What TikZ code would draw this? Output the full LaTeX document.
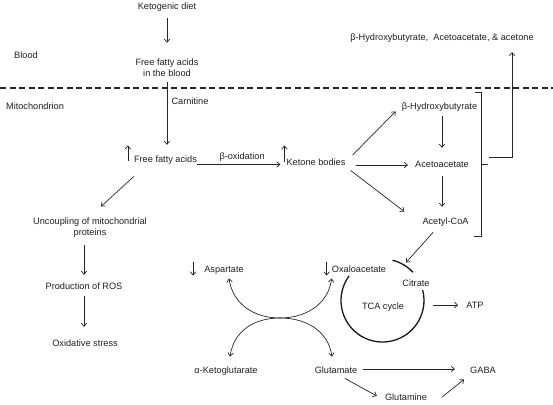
\documentclass[tikz,border=0pt]{standalone}
\usepackage{fontspec}
\setmainfont{Liberation Sans}
\usetikzlibrary{arrows.meta,calc}
\begin{document}
\begin{tikzpicture}[x=1pt,y=1pt,
  lbl/.style={inner sep=0pt, text=black!88, font=\fontsize{9.2}{11}\selectfont, text height=6.6pt, text depth=1.9pt},
  lbl2/.style={inner sep=0pt, text=black!88, font=\fontsize{9.2}{11}\selectfont, align=center},
  arr/.style={draw=black!85, line width=0.7pt, -{Straight Barb[length=3.2pt,width=5.5pt]}},
  darr/.style={draw=black!85, line width=0.7pt, {Straight Barb[length=3.2pt,width=5.5pt]}-{Straight Barb[length=3.2pt,width=5.5pt]}},
  ln/.style={draw=black!85, line width=0.7pt}]
\useasboundingbox (0,0) rectangle (553,-404);
% nodes
\node[lbl] (kd) at (167,-7) {Ketogenic diet};
\node[lbl2] (ffab) at (167,-67.5) {Free fatty acids\\in the blood};
\node[lbl] (blood) at (26,-56) {Blood};
\node[lbl] (mito) at (35,-107) {Mitochondrion};
\node[lbl] (carn) at (190,-102) {Carnitine};
\node[lbl] (ffa) at (165.5,-160) {Free fatty acids};
\node[lbl] (kb) at (316,-163) {Ketone bodies};
\node[lbl] (bh) at (439.5,-107) {β-Hydroxybutyrate};
\node[lbl] (aa) at (442,-165) {Acetoacetate};
\node[lbl] (acoa) at (445.5,-222) {Acetyl-CoA};
\node[lbl] (top) at (442,-38) {β-Hydroxybutyrate,\ \ Acetoacetate, \& acetone};
\node[lbl2] (unc) at (90,-227.5) {Uncoupling of mitochondrial\\proteins};
\node[lbl] (ros) at (84,-287) {Production of ROS};
\node[lbl] (ox) at (85,-344) {Oxidative stress};
\node[lbl] (asp) at (224,-270) {Aspartate};
\node[lbl] (oxa) at (359,-270) {Oxaloacetate};
\node[lbl] (akg) at (226,-371) {α-Ketoglutarate};
\node[lbl] (glu) at (336,-371) {Glutamate};
\node[lbl] (gaba) at (483,-371) {GABA};
\node[lbl] (gln) at (406,-398) {Glutamine};
\node[lbl] (cit) at (416,-284) {Citrate};
\node[lbl] (tca) at (383,-307) {TCA cycle};
\node[lbl] (atp) at (475,-306) {ATP};
% membrane
\draw[line width=1.2pt, black!85, dash pattern=on 6pt off 3.5pt] (0,-88) -- (553,-88);
% blood -> mitochondrion
\draw[arr, shorten <=6.75pt, shorten >=15.7pt] (kd.south) -- (kd.south |- ffab.north);
\draw[arr, shorten <=5.8pt, shorten >=10.75pt] (ffab.south) -- (ffab.south |- ffa.north);
\draw[arr] (ffa.south east) -- node[lbl, pos=0.54, above=3pt] (box) {β-oxidation} ($(ffa.south east -| kb.west)+(-6,0)$);
% up indicators
\draw[arr] ($(ffa.south west)+(-6,3)$) -- ++(0,16);
\draw[arr] ($(kb.south west)+(-2,5)$) -- ++(0,17);
% ketone bodies
\draw[arr] ($(kb.east)+(7,8)$) -- ($(bh.south west)+(-6,0)$);
\draw[arr] ($(kb.east)+(10,-2)$) -- ($(aa.west)+(-7,0)$);
\draw[arr] ($(kb.south east)+(5,-3)$) -- ($(acoa.north west)+(-18,6)$);
\draw[arr, shorten <=4.75pt, shorten >=12.75pt] (aa.north |- bh.south) -- (aa.north);
\draw[arr, shorten <=6.75pt, shorten >=10.75pt] (aa.south) -- (aa.south |- acoa.north);
\draw[arr] ($(acoa.south)+(-12.5,-6)$) -- ($(cit.north)+(-10,17)$);
% bracket
\draw[ln] (475,-92) -- (481,-92) -- (481,-236) -- (474,-236);
\draw[ln] (481,-164) -- (488,-164);
\coordinate (bm) at (489,-157);
\coordinate (bt) at (512,-52);
\draw[arr] (bm) -| (bt);
% left branch
\draw[arr] ($(ffa.south west)+(0,-12)$) -- ($(unc.north)+(11,11)$);
\draw[arr, shorten <=7.8pt, shorten >=7.75pt] (ros.north |- unc.south) -- (ros.north);
\draw[arr, shorten <=4.75pt, shorten >=12.75pt] (ros.south) -- (ros.south |- ox.north);
% down indicators
\draw[arr] ($(asp.north west)+(-11,4)$) -- ++(0,-14);
\draw[arr] ($(oxa.north west)+(-5,4)$) -- ++(0,-14);
% transamination curves
\coordinate (mid) at (280,-318);
\draw[darr] ($(asp.south)+(5,-4)$) .. controls (233,-305) and (255,-318) .. (mid)
  .. controls (305,-318) and (328,-305) .. ($(oxa.south west)+(0,-4)$);
\draw[darr] ($(akg.north)+(4,10)$) .. controls (234,-330) and (255,-318) .. (mid)
  .. controls (305,-318) and (328,-330) .. ($(glu.north)+(-4,10)$);
% TCA cycle
\coordinate (tcac) at (382.5,-300.5);
\draw[line width=1.3pt, black!90] (tcac) ++(143.6:41.5) arc[start angle=143.6, end angle=374.5, radius=41.5];
\draw[line width=1.3pt, black!90] (tcac) ++(43:41.5) arc[start angle=43, end angle=76, radius=41.5];
\draw[arr] ($(tca.east)+(29,2)$) -- ($(atp.west)+(-8,1)$);
% glutamate
\draw[arr] ($(glu.east)+(6,2)$) -- ($(gaba.west)+(-15,2)$);
\draw[arr] ($(glu.south)+(9,-3)$) -- ($(gln.west)+(-8,2)$);
\draw[arr] ($(gln.east)+(15,1)$) -- ($(gaba.south west)+(-6,-4)$);
\end{tikzpicture}
\end{document}
